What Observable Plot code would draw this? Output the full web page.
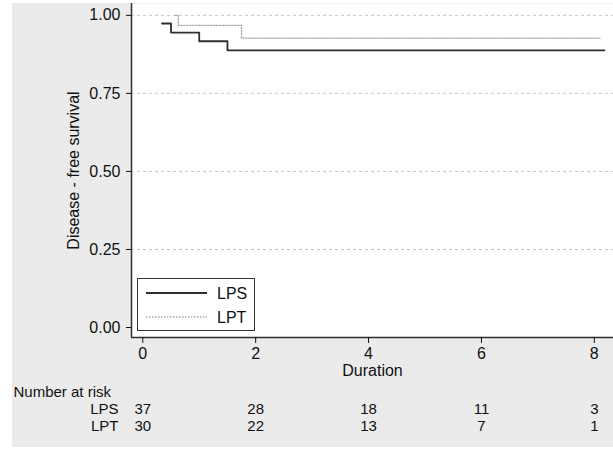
<!DOCTYPE html>
<html>
<head>
<meta charset="utf-8">
<script src="https://cdn.jsdelivr.net/npm/d3@7"></script>
<script src="https://cdn.jsdelivr.net/npm/@observablehq/plot@0.6"></script>
<style>
  html, body { margin: 0; padding: 0; background: #ffffff; }
  #wrap { position: relative; width: 613px; height: 450px; overflow: hidden; }
  #bg { position: absolute; left: 12px; top: 3px; width: 601px; height: 444px; background: #ebebeb; }
  #chart { position: absolute; left: 0; top: 0; }
  #legend { position: absolute; left: 137px; top: 278px; width: 116px; height: 51px;
    background: #ffffff; border: 1px solid #333; }
  #legend svg { position: absolute; left: 0; top: 0; }
</style>
</head>
<body>
<div id="wrap">
  <div id="bg"></div>
  <div id="chart"></div>
  <div id="legend"></div>
</div>
<script>
// ---- data ----
const groups = ["LPS", "LPT"];
const xTicks = [0, 2, 4, 6, 8];
const yTicks = [0, 0.25, 0.5, 0.75, 1];
const gridTicks = [0.25, 0.5, 0.75, 1];
const lpsTime = [0.34, 0.5, 1.0, 1.5, 8.18];
const lpsSurv = [0.974, 0.945, 0.917, 0.888, 0.888];
const lptTime = [0.58, 0.63, 1.75, 8.1];
const lptSurv = [1.0, 0.968, 0.927, 0.927];
const riskTimes = [0, 2, 4, 6, 8];
const riskLPS = [37, 28, 18, 11, 3];
const riskLPT = [30, 22, 13, 7, 1];
const xLabel = "Duration";
const yLabel = "Disease - free survival";
const riskTitle = "Number at risk";
const xDomain = [-0.2, 8.34];
const yDomain = [-0.032, 1.038];

const lps = lpsTime.map((t, i) => ({t, s: lpsSurv[i]}));
const lpt = lptTime.map((t, i) => ({t, s: lptSurv[i]}));
const rowLPS = riskTimes.map((t, i) => ({t, n: riskLPS[i]}));
const rowLPT = riskTimes.map((t, i) => ({t, n: riskLPT[i]}));

const font = "'Liberation Sans', Arial, Helvetica, sans-serif";
const fs = 16;
const fsRisk = 15;
const ink = "#111";
const solid = "#2e2e2e";
const dotted = "#a8a8a8";
const T = {fill: ink, fontSize: fs, lineAnchor: "middle"};
const R = {fill: ink, fontSize: fsRisk, lineAnchor: "middle"};

const chart = Plot.plot({
  width: 613,
  height: 450,
  marginLeft: 131,
  marginRight: 0,
  marginTop: 3,
  marginBottom: 113,
  style: {background: "transparent", fontFamily: font, fontSize: fs + "px", color: ink, overflow: "visible"},
  x: {domain: xDomain},
  y: {domain: yDomain},
  marks: [
    Plot.frame({fill: "white", stroke: "none"}),
    Plot.gridY(gridTicks, {stroke: "#c4c4c4", strokeOpacity: 1, strokeDasharray: "3,3"}),
    Plot.ruleX([xDomain[0]], {stroke: solid, strokeWidth: 1.5}),
    Plot.ruleY([yDomain[0]], {stroke: solid, strokeWidth: 1.5}),
    Plot.axisY(yTicks, {tickFormat: d3.format(".2f"), tickSize: 5, tickPadding: 6, label: null, fontSize: fs}),
    Plot.axisX(xTicks, {tickSize: 6, tickPadding: 4, tickFormat: d3.format("d"), label: null, fontSize: fs}),
    Plot.text([yLabel], {...T, frameAnchor: "left", dx: -58, rotate: -90, textAnchor: "middle"}),
    Plot.text([xLabel], {...T, frameAnchor: "bottom", dy: 33}),
    Plot.line(lpt, {x: "t", y: "s", curve: "step-after", stroke: dotted, strokeWidth: 1.3, strokeDasharray: "1.5,1.5"}),
    Plot.line(lps, {x: "t", y: "s", curve: "step-after", stroke: solid, strokeWidth: 1.8}),
    Plot.text([riskTitle], {...R, frameAnchor: "bottom-left", dx: -118, dy: 55, textAnchor: "start"}),
    Plot.text([groups[0]], {...R, frameAnchor: "bottom-left", dx: -13, dy: 72, textAnchor: "end"}),
    Plot.text([groups[1]], {...R, frameAnchor: "bottom-left", dx: -13, dy: 89, textAnchor: "end"}),
    Plot.text(rowLPS, {...R, x: "t", text: "n", frameAnchor: "bottom", dy: 72}),
    Plot.text(rowLPT, {...R, x: "t", text: "n", frameAnchor: "bottom", dy: 89})
  ]
});
document.getElementById("chart").appendChild(chart);

// legend
const lg = d3.select("#legend").append("svg").attr("width", 116).attr("height", 51);
const styles = [{stroke: solid, w: 1.8, dash: null}, {stroke: dotted, w: 1.3, dash: "1.5,1.5"}];
groups.forEach((g, i) => {
  const yy = 14 + i * 24;
  lg.append("line").attr("x1", 8).attr("x2", 69).attr("y1", yy).attr("y2", yy)
    .attr("stroke", styles[i].stroke).attr("stroke-width", styles[i].w)
    .attr("stroke-dasharray", styles[i].dash);
  lg.append("text").attr("x", 79).attr("y", yy).attr("dy", "0.35em")
    .attr("fill", ink).style("font-family", font).style("font-size", fs + "px").text(g);
});
</script>
</body>
</html>
